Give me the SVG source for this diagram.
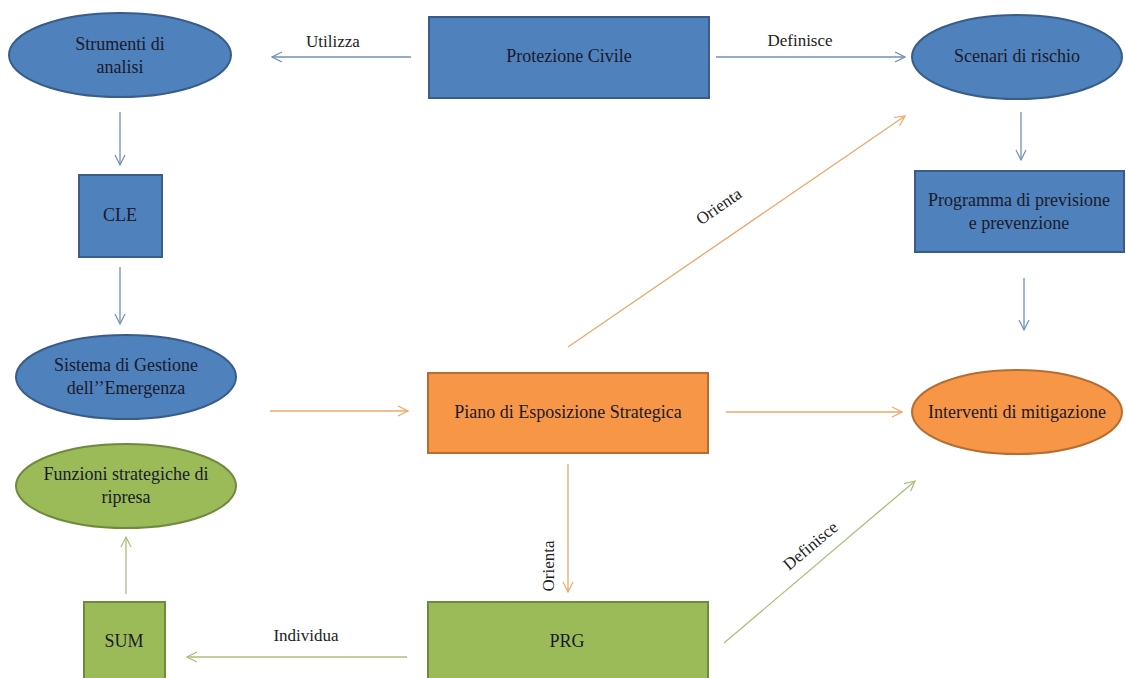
<svg xmlns="http://www.w3.org/2000/svg" width="1126" height="678" viewBox="0 0 1126 678">
<style>
text{font-family:"Liberation Serif","DejaVu Serif",serif}
.t{font-size:18px;fill:#1a1a2a;text-anchor:middle}
.lb{font-size:17px;fill:#222;text-anchor:middle}
.blue{fill:#4F81BD;stroke:#385D8A;stroke-width:2}
.orange{fill:#F79646;stroke:#B66D31;stroke-width:2}
.green{fill:#9BBB59;stroke:#71893F;stroke-width:2}
.cb{stroke:#6f8fbf;stroke-width:1.3;fill:none}
.co{stroke:#f0a66a;stroke-width:1.3;fill:none}
.cg{stroke:#a9bf7a;stroke-width:1.3;fill:none}
</style>
<defs>
<marker id="ab" viewBox="0 0 12 12" refX="11" refY="6" markerWidth="12" markerHeight="12" markerUnits="userSpaceOnUse" orient="auto"><path d="M1,1 L11,6 L1,11" fill="none" stroke="#6f8fbf" stroke-width="1.2"/></marker>
<marker id="ao" viewBox="0 0 12 12" refX="11" refY="6" markerWidth="12" markerHeight="12" markerUnits="userSpaceOnUse" orient="auto"><path d="M1,1 L11,6 L1,11" fill="none" stroke="#f0a66a" stroke-width="1.2"/></marker>
<marker id="ag" viewBox="0 0 12 12" refX="11" refY="6" markerWidth="12" markerHeight="12" markerUnits="userSpaceOnUse" orient="auto"><path d="M1,1 L11,6 L1,11" fill="none" stroke="#a9bf7a" stroke-width="1.2"/></marker>
</defs>
<rect width="1126" height="678" fill="#ffffff"/>

<g id="connectors">
<line class="cb" x1="411" y1="57" x2="272" y2="57" marker-end="url(#ab)"/>
<text class="lb" x="333" y="47">Utilizza</text>
<line class="cb" x1="716" y1="57" x2="905" y2="57" marker-end="url(#ab)"/>
<text class="lb" x="800" y="46">Definisce</text>
<line class="cb" x1="120" y1="112" x2="120" y2="165" marker-end="url(#ab)"/>
<line class="cb" x1="120" y1="267" x2="120" y2="324" marker-end="url(#ab)"/>
<line class="cb" x1="1021" y1="112" x2="1021" y2="160" marker-end="url(#ab)"/>
<line class="cb" x1="1024" y1="278" x2="1024" y2="330" marker-end="url(#ab)"/>
<line class="co" x1="270" y1="411" x2="408" y2="411" marker-end="url(#ao)"/>
<line class="co" x1="726" y1="412" x2="902" y2="412" marker-end="url(#ao)"/>
<line class="co" x1="568" y1="464" x2="568" y2="592" marker-end="url(#ao)"/>
<text class="lb" transform="translate(554,566) rotate(-90)">Orienta</text>
<line class="co" x1="568" y1="347" x2="905" y2="116" marker-end="url(#ao)"/>
<text class="lb" transform="translate(722,211) rotate(-34.4)">Orienta</text>
<line class="cg" x1="407" y1="657" x2="187" y2="657" marker-end="url(#ag)"/>
<text class="lb" x="306" y="641">Individua</text>
<line class="cg" x1="126" y1="594" x2="126" y2="537" marker-end="url(#ag)"/>
<line class="cg" x1="724" y1="643" x2="915" y2="481" marker-end="url(#ag)"/>
<text class="lb" transform="translate(814,550) rotate(-40)">Definisce</text>
</g>

<g id="strumenti"><ellipse class="blue" cx="120" cy="55" rx="111" ry="42"/><text class="t" x="120" y="50">Strumenti di</text><text class="t" x="120" y="73">analisi</text></g>
<g id="protezione"><rect class="blue" x="429" y="17" width="280" height="81"/><text class="t" x="569" y="62">Protezione Civile</text></g>
<g id="scenari"><ellipse class="blue" cx="1017" cy="57" rx="105" ry="42"/><text class="t" x="1017" y="62">Scenari di rischio</text></g>
<g id="cle"><rect class="blue" x="79" y="175" width="83" height="82"/><text class="t" x="120" y="221">CLE</text></g>
<g id="programma"><rect class="blue" x="915" y="171" width="209" height="81"/><text class="t" x="1019" y="206">Programma di previsione</text><text class="t" x="1019" y="229">e prevenzione</text></g>
<g id="sistema"><ellipse class="blue" cx="126" cy="377" rx="110" ry="42"/><text class="t" x="126" y="371">Sistema di Gestione</text><text class="t" x="126" y="394">dell’’Emergenza</text></g>
<g id="piano"><rect class="orange" x="428" y="373" width="280" height="80"/><text class="t" x="568" y="418">Piano di Esposizione Strategica</text></g>
<g id="interventi"><ellipse class="orange" cx="1017" cy="412" rx="105" ry="42"/><text class="t" x="1017" y="418">Interventi  di mitigazione</text></g>
<g id="funzioni"><ellipse class="green" cx="126" cy="486" rx="110" ry="42"/><text class="t" x="126" y="480">Funzioni strategiche di</text><text class="t" x="126" y="503">ripresa</text></g>
<g id="sum"><rect class="green" x="84" y="602" width="81" height="86"/><text class="t" x="124" y="647">SUM</text></g>
<g id="prg"><rect class="green" x="428" y="602" width="280" height="86"/><text class="t" x="567" y="647">PRG</text></g>
</svg>
